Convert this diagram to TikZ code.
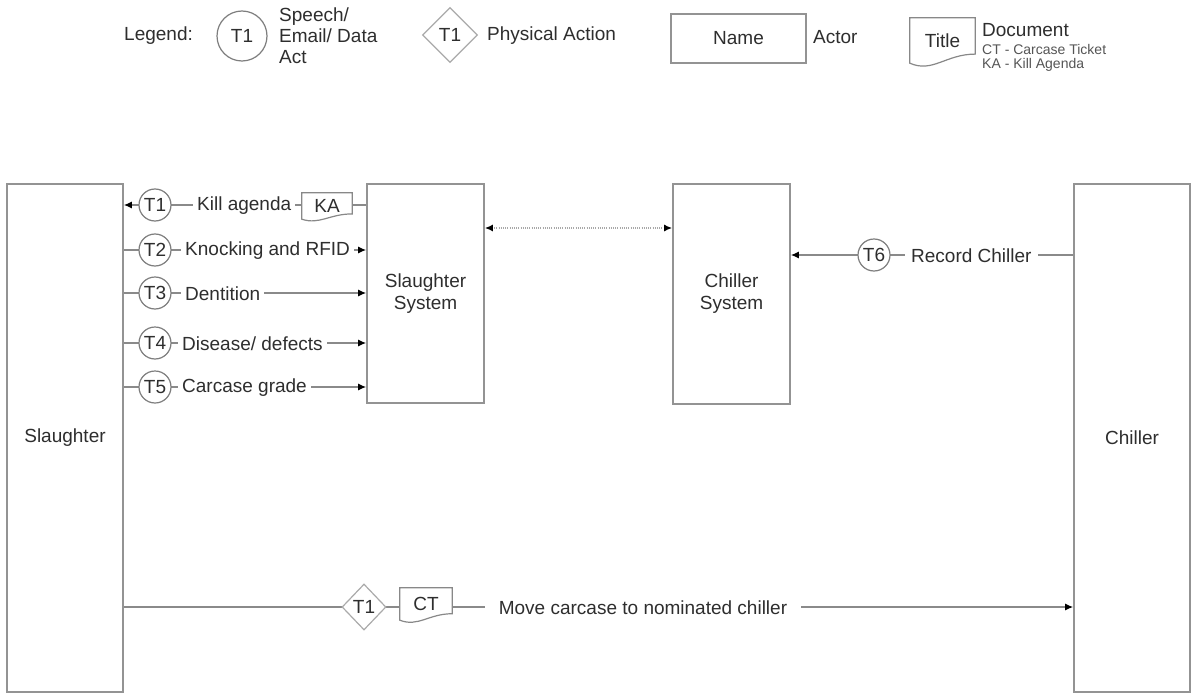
\documentclass[tikz,border=0pt]{standalone}
\usepackage{fontspec}
\setmainfont{Liberation Sans}
\usetikzlibrary{arrows.meta,shapes.geometric,calc}
\pgfdeclarelayer{bgfill}
\pgfdeclarelayer{lines}
\pgfdeclarelayer{docs}
\pgfsetlayers{bgfill,lines,docs,main}
\definecolor{txt}{HTML}{2E2E2E}
\definecolor{smalltxt}{HTML}{555555}
\definecolor{boxgray}{HTML}{939393}
\definecolor{linegray}{HTML}{8A8A8A}
\definecolor{circgray}{HTML}{7E7E7E}
\definecolor{diagray}{HTML}{AAAAAA}
\definecolor{docgray}{HTML}{888888}
\definecolor{dotgray}{HTML}{A8A8A8}
\newcommand\docoutline[1]{%
 \begin{pgfonlayer}{docs}
 \draw[docline] let \p1=(#1.north west), \p2=(#1.south east), \n1={\y1-\y2}, \n2={\x2-\x1} in
  (\x1,\y1) -- (\x2,\y1) -- (\x2,{\y2+0.2*\n1})
  .. controls ({\x2-0.45*\n2},{\y2+0.2*\n1}) and ({\x1+0.35*\n2},{\y2-0.22*\n1}) .. (\x1,\y2) -- cycle;
 \end{pgfonlayer}}
\tikzset{
  basefont/.style={font=\fontsize{19}{22}\selectfont, text=txt},
  actor/.style={basefont, rectangle, draw=boxgray, line width=1.6pt, inner sep=0pt},
  speech/.style={basefont, circle, draw=circgray, line width=1.2pt, fill=white, inner sep=0pt, minimum size=32pt},
  action/.style={basefont, diamond, draw=diagray, line width=1.2pt, fill=white, inner sep=0pt, minimum width=44pt, minimum height=46pt},
  docbox/.style={basefont, rectangle, inner sep=0pt},
  docline/.style={draw=docgray, line width=1.2pt, fill=white},
  lbl/.style={basefont, fill=white, inner xsep=4pt, inner ysep=2pt},
  txtnode/.style={basefont, inner sep=0pt},
  smallnode/.style={font=\fontsize{14}{16}\selectfont, text=smalltxt, inner sep=0pt},
  conn/.style={draw=linegray, line width=1.3pt},
  arrowend/.style={-{Latex[length=8pt,width=7pt,color=black]}},
  dotline/.style={draw=dotgray, line width=1.8pt, dash pattern=on 1pt off 1.2pt, {Latex[length=8pt,width=7pt,color=black]}-{Latex[length=8pt,width=7pt,color=black]}},
}
\begin{document}
\begin{tikzpicture}[x=1pt,y=-1pt]
\begin{pgfonlayer}{bgfill}
\fill[white] (0,0) rectangle (1193,698);
\end{pgfonlayer}
\useasboundingbox (0,0) rectangle (1193,698);

% ---------- Legend ----------
\node[txtnode, anchor=west] (lg) at (124,36) {Legend:};
\node[speech, minimum size=50pt] (lc) at (242,36) {T1};
\node[txtnode, anchor=west, align=left, font=\fontsize{19}{21}\selectfont] (ls) at (279,36) {Speech/\\Email/ Data\\Act};
\node[action, minimum width=55pt, minimum height=55pt] (ld) at (450,35) {T1};
\node[txtnode, anchor=west] (lp) at (487,36) {Physical Action};
\node[actor, line width=1.4pt, minimum width=135pt, minimum height=49pt] (ln) at (738.5,38.5) {Name};
\node[txtnode, anchor=west] (la) at (813,37) {Actor};
\node[docbox, minimum width=65pt, minimum height=45pt] (lt) at (942.5,40.5) {Title};
\docoutline{lt}
\node[txtnode, anchor=west] (ldoc) at (982,30) {Document};
\node[smallnode, anchor=west] (lct) at (982,49) {CT - Carcase Ticket};
\node[smallnode, anchor=west] (lka) at (982,65) {KA - Kill Agenda};

% ---------- Actors / systems ----------
\node[actor, minimum width=116pt, minimum height=508pt] (sl) at (65,438) {Slaughter};
\node[actor, minimum width=116pt, minimum height=508pt] (ch) at (1132,438) {Chiller};
\node[actor, align=center, minimum width=117pt, minimum height=219pt] (ss) at (425.5,293.5) {Slaughter\\System};
\node[actor, align=center, minimum width=117pt, minimum height=220pt] (cs) at (731.5,294) {Chiller\\System};

% ---------- row coordinates ----------
\coordinate (r0) at (0,228);
\coordinate (r1) at (0,205);
\coordinate (r2) at (0,250);
\coordinate (r3) at (0,293);
\coordinate (r4) at (0,343);
\coordinate (r5) at (0,387);
\coordinate (r6) at (0,255);
\coordinate (r7) at (0,607);

% ---------- connectors ----------
\begin{pgfonlayer}{lines}
\draw[conn, arrowend] (ss.west |- r1) -- (sl.east |- r1);
\draw[conn, arrowend] (sl.east |- r2) -- (ss.west |- r2);
\draw[conn, arrowend] (sl.east |- r3) -- (ss.west |- r3);
\draw[conn, arrowend] (sl.east |- r4) -- (ss.west |- r4);
\draw[conn, arrowend] (sl.east |- r5) -- (ss.west |- r5);
\draw[conn, arrowend] (ch.west |- r6) -- (cs.east |- r6);
\draw[conn, arrowend] (sl.east |- r7) -- (ch.west |- r7);
\draw[dotline] (ss.east |- r0) -- (cs.west |- r0);
\end{pgfonlayer}

% ---------- row 1 ----------
\node[speech] (t1) at (155,205) {T1};
\node[lbl, anchor=west] (k1) at (193,206) {Kill agenda};
\node[docbox, minimum width=50pt, minimum height=26pt] (ka) at (327,206) {KA};
\docoutline{ka}
% ---------- rows 2-5 ----------
\node[speech] (t2) at (155,250) {T2};
\node[lbl, anchor=west] (k2) at (181,251) {Knocking and RFID};
\node[speech] (t3) at (155,293) {T3};
\node[lbl, anchor=west] (k3) at (181,294) {Dentition};
\node[speech] (t4) at (155,343) {T4};
\node[lbl, anchor=west] (k4) at (178,344) {Disease/ defects};
\node[speech] (t5) at (155,387) {T5};
\node[lbl, anchor=west] (k5) at (178,388) {Carcase grade};
% ---------- row 6 ----------
\node[speech] (t6) at (874,255) {T6};
\node[lbl, anchor=west, inner xsep=6pt] (k6) at (905,256) {Record Chiller};
% ---------- bottom row ----------
\node[action] (a1) at (364,607) {T1};
\node[docbox, minimum width=52pt, minimum height=32pt] (ct) at (426,604) {CT};
\docoutline{ct}
\node[lbl, inner xsep=14pt] (k7) at (643,608) {Move carcase to nominated chiller};
\end{tikzpicture}
\end{document}
